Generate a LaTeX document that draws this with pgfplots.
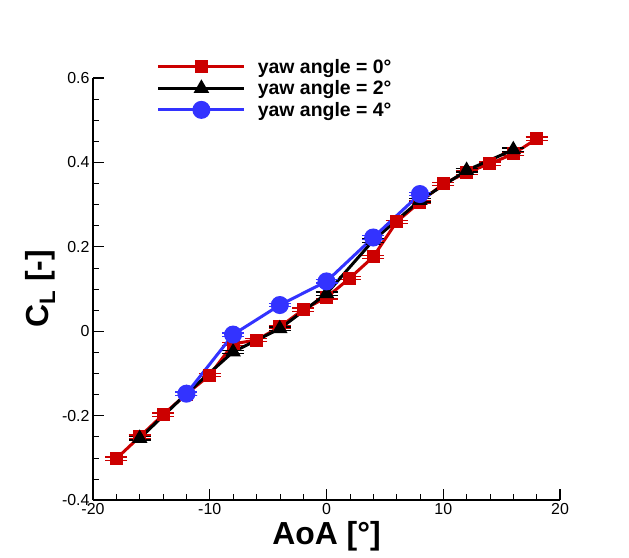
\documentclass[border=0pt]{standalone}
\usepackage{pgfplots}
\pgfplotsset{compat=1.18}
\usepackage{fontspec}
\setmainfont{Liberation Sans}
\definecolor{cred}{RGB}{204,0,0}
\definecolor{cblue}{RGB}{51,51,255}
\begin{document}
\begin{tikzpicture}
\path[use as bounding box] (0,0) rectangle (629bp,558bp);
\begin{axis}[
  at={(93bp,58bp)}, anchor=south west,
  scale only axis, width=467bp, height=422bp,
  xmin=-20, xmax=20, ymin=-0.4, ymax=0.6,
  axis x line=bottom, axis y line=left,
  axis line style={-, line width=1.5pt},
  xtick={-20,-10,0,10,20}, ytick={-0.4,-0.2,0,0.2,0.4,0.6},
  minor x tick num=4, minor y tick num=3,
  tick align=inside, major tick length=11bp, minor tick length=6bp,
  every major tick/.style={black, line width=1.2pt},
  every minor tick/.style={black, line width=0.6pt},
  /pgf/number format/assume math mode=true,
  tick label style={font=\fontsize{16}{18}\selectfont},
  xlabel={\textbf{AoA [°]}},
  ylabel={\textbf{C\textsubscript{L} [-]}},
  label style={font=\fontsize{32}{36}\selectfont},
  legend style={at={(axis description cs:0.13,1.055)}, anchor=north west, draw=none, fill=none,
    font=\bfseries\fontsize{19.5}{21}\selectfont, row sep=2bp},
  legend cell align=left,
  legend image code/.code={\draw[mark repeat=2,mark phase=2,#1] plot coordinates {(0bp,0bp) (43bp,0bp) (86bp,0bp)}; \path (96bp,0bp);},
  error bars/y dir=both, error bars/y fixed=0.004,
  error bars/error mark options={rotate=90, mark size=11bp, line width=1.3pt},
]
\addplot[cred, line width=3bp, mark=square*, mark size=5bp, mark options={solid}] coordinates {
(-18,-0.302) (-16,-0.250) (-14,-0.198) (-12,-0.149) (-10,-0.104) (-8,-0.030) (-6,-0.021) (-4,0.010) (-2,0.051) (0,0.080) (2,0.126) (4,0.176) (6,0.259) (8,0.306) (10,0.349) (12,0.376) (14,0.397) (16,0.420) (18,0.456)};
\addlegendentry{yaw angle = 0°}
\addplot[black, line width=3bp, mark=triangle*, mark size=6bp, mark options={solid}] coordinates {
(-16,-0.254) (-12,-0.148) (-8,-0.049) (-4,0.006) (0,0.089) (4,0.215) (8,0.310) (12,0.381) (16,0.430)};
\addlegendentry{yaw angle = 2°}
\addplot[cblue, line width=3bp, mark=*, mark size=7.5bp, mark options={solid}] coordinates {
(-12,-0.148) (-8,-0.008) (-4,0.062) (0,0.118) (4,0.222) (8,0.325)};
\addlegendentry{yaw angle = 4°}
\end{axis}
\end{tikzpicture}
\end{document}
